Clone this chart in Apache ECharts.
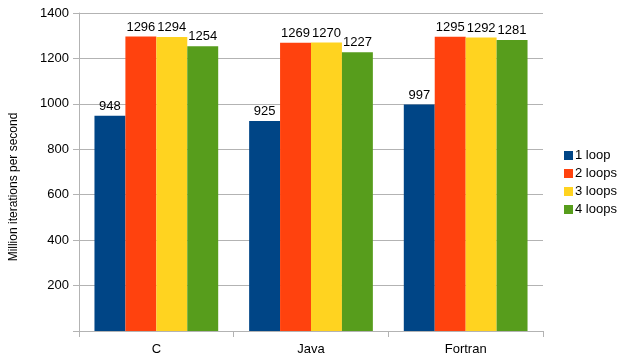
<!DOCTYPE html>
<html>
<head>
<meta charset="utf-8">
<script src="https://cdn.jsdelivr.net/npm/echarts@6/dist/echarts.min.js"></script>
<style>
html,body{margin:0;padding:0;background:#fff;}
#chart{width:619px;height:358px;}
</style>
</head>
<body>
<div id="chart"></div>
<script>
// Benchmark: throughput by language and loop count
const languages = ['C', 'Java', 'Fortran'];
const seriesNames = ['1 loop', '2 loops', '3 loops', '4 loops'];
const oneLoop = [948, 925, 997];
const twoLoops = [1296, 1269, 1295];
const threeLoops = [1294, 1270, 1292];
const fourLoops = [1254, 1227, 1281];
const colors = ['#004586', '#ff420e', '#ffd320', '#579d1c'];

const seriesValues = [oneLoop, twoLoops, threeLoops, fourLoops];
const font = 'Liberation Sans, Arial, sans-serif';

const chart = echarts.init(document.getElementById('chart'), null, { renderer: 'canvas' });
chart.setOption({
  animation: false,
  color: colors,
  grid: { left: 79, right: 76, top: 13, bottom: 27, containLabel: false, outerBoundsMode: 'none' },
  legend: {
    orient: 'vertical',
    left: 559,
    top: 144,
    itemWidth: 9,
    itemHeight: 9,
    itemGap: 5,
    icon: 'rect',
    textStyle: { fontFamily: font, fontSize: 13, color: '#000', padding: [0, 0, 0, -3] },
    data: seriesNames
  },
  xAxis: {
    type: 'category',
    data: languages,
    axisLine: { lineStyle: { color: '#b3b3b3' } },
    axisTick: { show: true, length: 6, lineStyle: { color: '#b3b3b3' } },
    axisLabel: { fontFamily: font, fontSize: 13, color: '#000', margin: 12 }
  },
  yAxis: {
    type: 'value',
    min: 0,
    max: 1400,
    interval: 200,
    name: 'Million iterations per second',
    nameLocation: 'middle',
    nameGap: 59,
    nameTextStyle: { fontFamily: font, fontSize: 12, color: '#000', padding: [0, 30, 0, 0] },
    axisLine: { show: true, lineStyle: { color: '#b3b3b3' } },
    axisTick: { show: true, length: 6, lineStyle: { color: '#b3b3b3' } },
    axisLabel: {
      fontFamily: font, fontSize: 13, color: '#000', margin: 10,
      formatter: v => (v === 0 ? '' : String(v))
    },
    splitLine: { lineStyle: { color: '#b3b3b3' } }
  },
  series: seriesValues.map((vals, i) => ({
    name: seriesNames[i],
    type: 'bar',
    data: vals,
    barGap: '0%',
    barCategoryGap: '20%',
    label: {
      show: true,
      position: 'top',
      distance: 3,
      fontFamily: font,
      fontSize: 13,
      color: '#000'
    }
  }))
});
</script>
</body>
</html>
